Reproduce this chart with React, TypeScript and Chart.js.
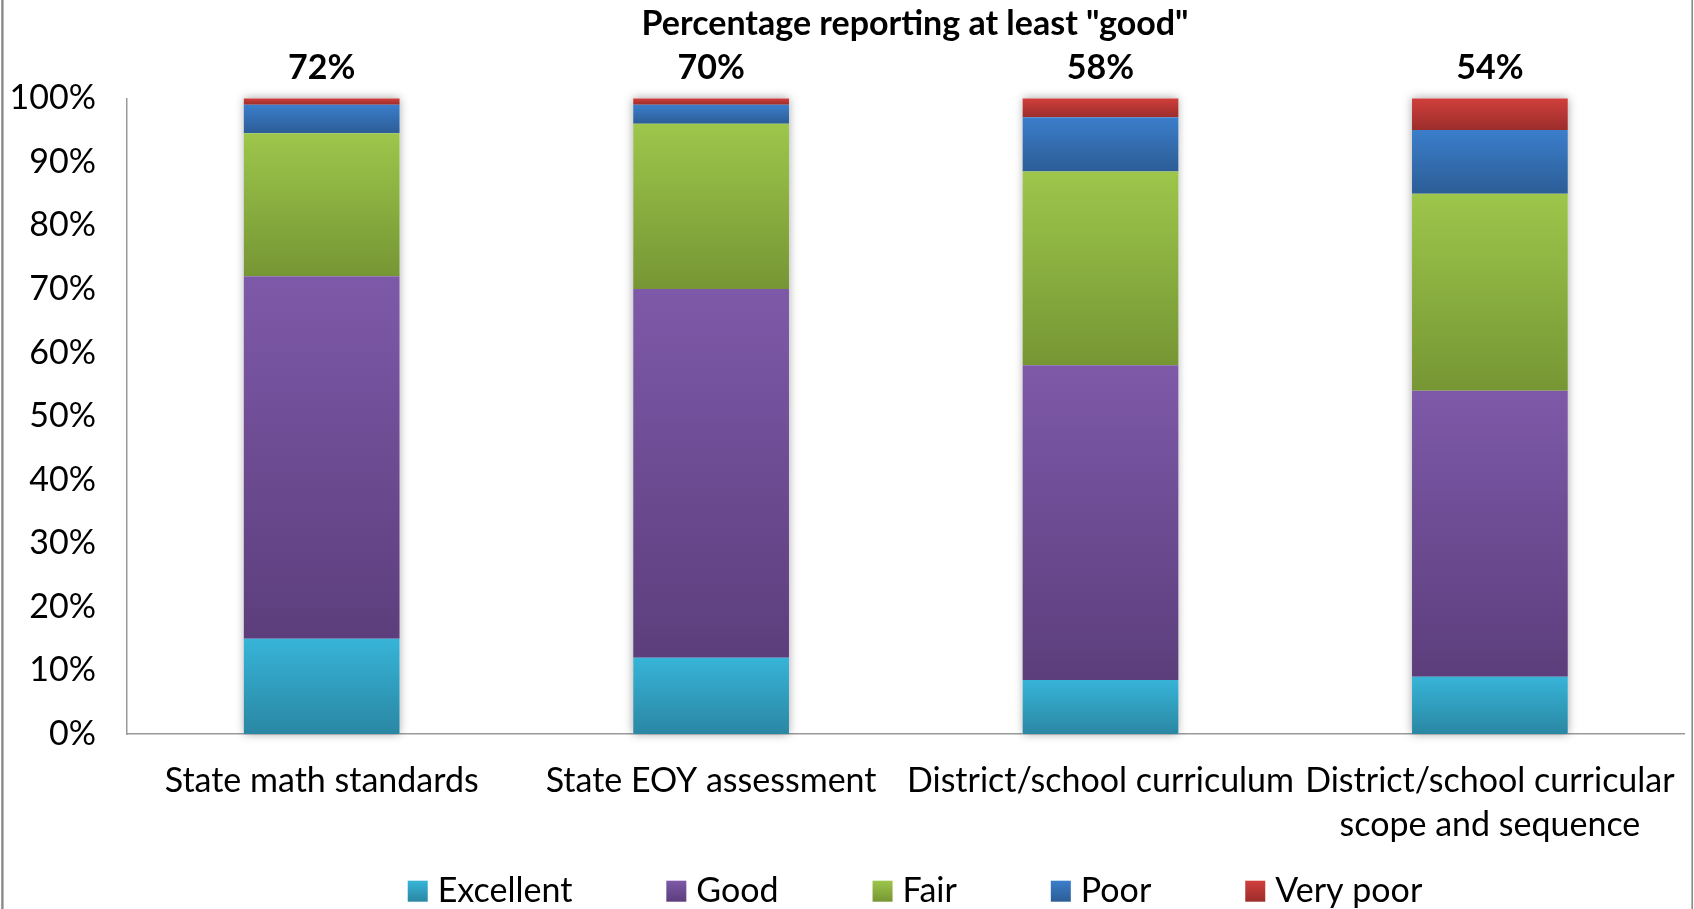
import { useEffect, useRef } from "react";
import { Chart, registerables } from "chart.js";

Chart.register(...registerables);

// Categories (multi-line labels are arrays of lines)
const CATEGORIES: string[][] = [
  ["State math standards"],
  ["State EOY assessment"],
  ["District/school curriculum"],
  ["District/school curricular", "scope and sequence"],
];

const SERIES_NAMES = ["Excellent", "Good", "Fair", "Poor", "Very poor"];

// Percent of respondents per rating
const EXCELLENT = [15, 12, 8.5, 9];
const GOOD = [57, 58, 49.5, 45];
const FAIR = [22.5, 26, 30.5, 31];
const POOR = [4.5, 3, 8.5, 10];
const VERY_POOR = [1, 1, 3, 5];

const Y_MIN = 0;
const Y_MAX = 100;
const Y_STEP = 10;

const TITLE = 'Percentage reporting at least "good"';

const SERIES_VALUES = [EXCELLENT, GOOD, FAIR, POOR, VERY_POOR];

// [top colour, bottom colour] of each segment's vertical gradient
const SERIES_GRADIENTS: [string, string][] = [
  ["#37b4d8", "#2a87a3"],
  ["#7e59a9", "#5c3e7c"],
  ["#9dc64b", "#769634"],
  ["#3b7ecb", "#2c5d96"],
  ["#d03f3c", "#9b2d2b"],
];

const FONT_FAMILY = "Lato, 'Noto Sans', sans-serif";
const TEXT_SIZE = 34;
const TITLE_SIZE = 34;

const W = 1694;
const H = 909;
const PLOT_LEFT = 127;
const PLOT_RIGHT = 1684.6;
const PLOT_TOP = 98.3;
const PLOT_BOTTOM = 734;
const HEADER_CENTER_X = 915;

function segmentFill(ctx: any) {
  const [light, dark] = SERIES_GRADIENTS[ctx.datasetIndex];
  const chart = ctx.chart;
  const y = chart.scales?.y;
  if (ctx.type !== "data" || !y || !chart.chartArea) return light;
  const i = ctx.dataIndex;
  let start = 0;
  for (let d = 0; d < ctx.datasetIndex; d++) start += SERIES_VALUES[d][i];
  const end = start + SERIES_VALUES[ctx.datasetIndex][i];
  const yTop = y.getPixelForValue(end);
  const yBottom = y.getPixelForValue(start);
  if (!isFinite(yTop) || !isFinite(yBottom) || yTop === yBottom) return light;
  const g = chart.ctx.createLinearGradient(0, yTop, 0, yBottom);
  g.addColorStop(0, light);
  g.addColorStop(1, dark);
  return g;
}

// Side rules of the chart frame and white background
const framePlugin = {
  id: "frame",
  beforeDraw(chart: any) {
    const { ctx } = chart;
    ctx.save();
    ctx.fillStyle = "#ffffff";
    ctx.fillRect(0, 0, chart.width, chart.height);
    ctx.fillStyle = "#8a8a8a";
    ctx.fillRect(1.2, 0, 2.4, chart.height);
    ctx.fillRect(chart.width - 2.6, 0, 1.6, chart.height);
    ctx.restore();
  },
};

// Soft halo behind each stacked column
const haloPlugin = {
  id: "halo",
  beforeDatasetsDraw(chart: any) {
    const { ctx } = chart;
    const first = chart.getDatasetMeta(0).data;
    const last = chart.getDatasetMeta(SERIES_VALUES.length - 1).data;
    ctx.save();
    ctx.shadowColor = "rgba(0,0,0,0.35)";
    ctx.shadowBlur = 9;
    ctx.fillStyle = "#ffffff";
    first.forEach((el: any, i: number) => {
      const a = el.getProps(["x", "width", "base"], true);
      const b = last[i].getProps(["y"], true);
      ctx.fillRect(a.x - a.width / 2, b.y, a.width, a.base - b.y);
    });
    ctx.restore();
  },
};

// Title, "at least good" totals and the legend row
const textPlugin = {
  id: "texts",
  afterDatasetsDraw(chart: any) {
    const { ctx } = chart;
    const last = chart.getDatasetMeta(SERIES_VALUES.length - 1).data;
    ctx.save();
    ctx.font = `bold ${TEXT_SIZE}px ${FONT_FAMILY}`;
    ctx.fillStyle = "#000";
    ctx.textAlign = "center";
    ctx.textBaseline = "alphabetic";
    last.forEach((el: any, i: number) => {
      const p = el.getProps(["x", "y"], true);
      const total = Math.round(EXCELLENT[i] + GOOD[i]);
      ctx.fillText(`${total}%`, p.x, p.y - 19);
    });
    ctx.restore();
  },
  afterDraw(chart: any) {
    const { ctx } = chart;
    ctx.save();
    ctx.fillStyle = "#000";
    ctx.textBaseline = "alphabetic";
    ctx.textAlign = "center";
    ctx.font = `bold ${TITLE_SIZE}px ${FONT_FAMILY}`;
    ctx.fillText(TITLE, HEADER_CENTER_X, 35);

    // legend
    const box = 20;
    const boxGap = 10;
    const itemGap = 94;
    const baseline = 901.7;
    ctx.font = `${TEXT_SIZE}px ${FONT_FAMILY}`;
    ctx.textAlign = "left";
    const widths = SERIES_NAMES.map((n) => ctx.measureText(n).width);
    const total =
      widths.reduce((s, w) => s + w + box + boxGap, 0) + itemGap * (SERIES_NAMES.length - 1);
    let x = HEADER_CENTER_X - total / 2;
    SERIES_NAMES.forEach((name, i) => {
      const [light, dark] = SERIES_GRADIENTS[i];
      const g = ctx.createLinearGradient(0, baseline - box - 1, 0, baseline);
      g.addColorStop(0, light);
      g.addColorStop(1, dark);
      ctx.fillStyle = g;
      ctx.fillRect(x, baseline - box - 1, box, box + 1);
      ctx.fillStyle = "#000";
      ctx.fillText(name, x + box + boxGap, baseline);
      x += box + boxGap + widths[i] + itemGap;
    });
    ctx.restore();
  },
};

export default function App() {
  const canvasRef = useRef<HTMLCanvasElement | null>(null);

  useEffect(() => {
    document.body.style.margin = "0";
    const canvas = canvasRef.current;
    if (!canvas) return;

    const chart = new Chart(canvas, {
      type: "bar",
      data: {
        labels: CATEGORIES,
        datasets: SERIES_NAMES.map((name, d) => ({
          label: name,
          data: SERIES_VALUES[d],
          backgroundColor: segmentFill,
          borderWidth: 0,
          barPercentage: 0.4,
          categoryPercentage: 1,
        })),
      },
      options: {
        responsive: false,
        animation: false,
        devicePixelRatio: 1,
        layout: {
          padding: { left: 0, right: W - PLOT_RIGHT, top: PLOT_TOP, bottom: 0 },
        },
        plugins: {
          legend: { display: false },
          title: { display: false },
          tooltip: { enabled: false },
        },
        scales: {
          x: {
            stacked: true,
            grid: { display: false, drawTicks: false },
            border: { display: true, color: "#9a9a9a", width: 1.5 },
            ticks: {
              autoSkip: false,
              maxRotation: 0,
              minRotation: 0,
              padding: 25,
              color: "#000",
              font: { family: FONT_FAMILY, size: TEXT_SIZE, lineHeight: 44 / TEXT_SIZE },
            },
            afterFit: (scale: any) => {
              scale.height = H - PLOT_BOTTOM;
              scale.paddingLeft = 0;
              scale.paddingRight = 0;
            },
          },
          y: {
            stacked: true,
            min: Y_MIN,
            max: Y_MAX,
            grid: { display: false, drawTicks: false },
            border: { display: true, color: "#9a9a9a", width: 1.5 },
            ticks: {
              stepSize: Y_STEP,
              padding: 31,
              color: "#000",
              font: { family: FONT_FAMILY, size: TEXT_SIZE },
              callback: (v: any) => `${v}%`,
            },
            afterFit: (scale: any) => {
              scale.width = PLOT_LEFT;
            },
          },
        },
      },
      plugins: [framePlugin, haloPlugin, textPlugin],
    });

    return () => chart.destroy();
  }, []);

  return (
    <div style={{ width: W, height: H, position: "relative" }}>
      <canvas ref={canvasRef} width={W} height={H} style={{ display: "block" }} />
    </div>
  );
}
